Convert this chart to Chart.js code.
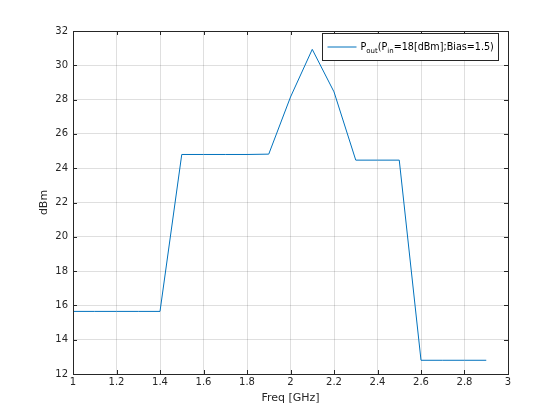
<!DOCTYPE html>
<html lang="en">
<head>
<meta charset="UTF-8" />
<title>Pout vs Freq</title>
<script src="https://cdn.jsdelivr.net/npm/chart.js"></script>
<style>
  html, body { margin: 0; padding: 0; background: #fff; }
  #wrap { width: 560px; height: 420px; }
</style>
</head>
<body>
<div id="wrap"><canvas id="chart" width="560" height="420"></canvas></div>
<script>
  // data
  const freq = [1.0, 1.1, 1.2, 1.3, 1.4, 1.5, 1.6, 1.7, 1.8, 1.9, 2.0, 2.1, 2.2, 2.3, 2.4, 2.5, 2.6, 2.7, 2.8, 2.9];
  const pout = [15.65, 15.65, 15.65, 15.65, 15.65, 24.8, 24.8, 24.8, 24.8, 24.82, 28.15, 30.93, 28.45, 24.47, 24.47, 24.47, 12.8, 12.8, 12.8, 12.8];
  const seriesLabel = 'Pout(Pin=18[dBm];Bias=1.5)';

  const FONT = 'DejaVu Sans';
  const TEXT = '#262626';
  const LINE = '#0072BD';

  // box around axes + inward tick marks + legend with subscripts
  const matlabFrame = {
    id: 'matlabFrame',
    afterDraw(chart) {
      const c = chart.ctx, a = chart.chartArea;
      const xs = chart.scales.x, ys = chart.scales.y;
      c.save();
      c.strokeStyle = TEXT;
      c.lineWidth = 1;
      c.beginPath();
      xs.ticks.forEach(t => {
        const px = Math.round(xs.getPixelForValue(t.value)) + 0.5;
        c.moveTo(px, a.bottom); c.lineTo(px, a.bottom - 4);
        c.moveTo(px, a.top); c.lineTo(px, a.top + 4);
      });
      ys.ticks.forEach(t => {
        const py = Math.round(ys.getPixelForValue(t.value)) + 0.5;
        c.moveTo(a.left, py); c.lineTo(a.left + 4, py);
        c.moveTo(a.right, py); c.lineTo(a.right - 4, py);
      });
      c.stroke();
      c.strokeRect(Math.round(a.left) + 0.5, Math.round(a.top) + 0.5,
                   Math.round(a.right - a.left), Math.round(a.bottom - a.top));

      // legend
      const bx = 322.5, by = 33.5, bw = 176, bh = 27;
      c.fillStyle = '#fff';
      c.fillRect(bx, by, bw, bh);
      c.strokeRect(bx, by, bw, bh);
      const ly = by + bh / 2;
      c.strokeStyle = LINE;
      c.beginPath(); c.moveTo(bx + 5, ly); c.lineTo(bx + 34, ly); c.stroke();

      const parts = [['P', 0], ['out', 1], ['(P', 0], ['in', 1], ['=18[dBm];Bias=1.5)', 0]];
      let tx = bx + 38;
      c.fillStyle = '#000';
      c.textBaseline = 'alphabetic';
      parts.forEach(([s, sub]) => {
        c.font = (sub ? 7 : 9.6) + 'px ' + FONT;
        c.fillText(s, tx, sub ? ly + 6 : ly + 3);
        tx += c.measureText(s).width;
      });
      c.restore();
    }
  };

  new Chart(document.getElementById('chart'), {
    type: 'line',
    data: {
      datasets: [{
        label: seriesLabel,
        data: freq.map((f, i) => ({ x: f, y: pout[i] })),
        borderColor: LINE,
        borderWidth: 1,
        pointRadius: 0,
        tension: 0,
        fill: false
      }]
    },
    options: {
      responsive: false,
      animation: false,
      layout: { padding: { top: 31, right: 52, left: 38, bottom: 15 } },
      plugins: { legend: { display: false }, tooltip: { enabled: false } },
      scales: {
        x: {
          type: 'linear',
          min: 1, max: 3,
          afterFit(s) { s.height = 31; },
          ticks: {
            stepSize: 0.2,
            color: TEXT,
            font: { family: FONT, size: 10 },
            padding: 2,
            maxRotation: 0,
            callback: v => Number(v.toFixed(1)).toString()
          },
          grid: { color: 'rgba(38,38,38,0.15)', drawTicks: false },
          border: { display: false },
          title: { display: true, text: 'Freq [GHz]', color: TEXT, font: { family: FONT, size: 11 }, padding: 0 }
        },
        y: {
          min: 12, max: 32,
          afterFit(s) { s.width = 35; },
          ticks: {
            stepSize: 2,
            color: TEXT,
            font: { family: FONT, size: 10 },
            padding: 5
          },
          grid: { color: 'rgba(38,38,38,0.15)', drawTicks: false },
          border: { display: false },
          title: { display: true, text: 'dBm', color: TEXT, font: { family: FONT, size: 11 }, padding: 0 }
        }
      }
    },
    plugins: [matlabFrame]
  });
</script>
</body>
</html>
